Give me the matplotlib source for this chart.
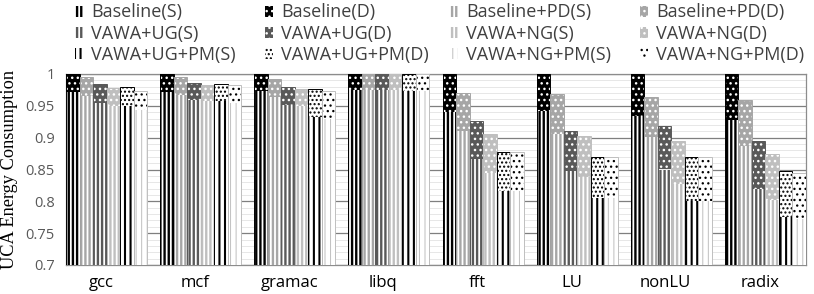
import matplotlib
matplotlib.use('Agg')
import matplotlib.pyplot as plt
import numpy as np
from matplotlib.patches import Patch
from matplotlib.ticker import MultipleLocator

categories = ['gcc', 'mcf', 'gramac', 'libq', 'fft', 'LU', 'nonLU', 'radix']
configs = ['Baseline', 'Baseline+PD', 'VAWA+UG', 'VAWA+NG', 'VAWA+UG+PM', 'VAWA+NG+PM']

# static (S) part and total (S + D) per configuration
baseline_s    = [0.971, 0.972, 0.974, 0.975, 0.941, 0.942, 0.934, 0.927]
baseline_tot  = [1.000, 1.000, 1.000, 1.000, 1.000, 1.000, 1.000, 1.000]
pd_s          = [0.966, 0.967, 0.964, 0.975, 0.910, 0.906, 0.901, 0.887]
pd_tot        = [0.995, 0.995, 0.992, 1.000, 0.970, 0.968, 0.964, 0.959]
ug_s          = [0.954, 0.959, 0.951, 0.975, 0.866, 0.848, 0.850, 0.820]
ug_tot        = [0.984, 0.986, 0.980, 1.000, 0.926, 0.911, 0.918, 0.894]
ng_s          = [0.950, 0.957, 0.950, 0.975, 0.845, 0.839, 0.827, 0.802]
ng_tot        = [0.978, 0.983, 0.976, 1.000, 0.905, 0.902, 0.895, 0.874]
ugpm_s        = [0.950, 0.958, 0.933, 0.974, 0.817, 0.806, 0.801, 0.776]
ugpm_tot      = [0.980, 0.985, 0.977, 1.000, 0.877, 0.869, 0.869, 0.848]
ngpm_s        = [0.944, 0.955, 0.929, 0.974, 0.817, 0.806, 0.801, 0.772]
ngpm_tot      = [0.974, 0.983, 0.974, 1.000, 0.877, 0.869, 0.869, 0.844]

yticks = [0.7, 0.75, 0.8, 0.85, 0.9, 0.95, 1.0]
ytick_labels = ['0.7', '0.75', '0.8', '0.85', '0.9', '0.95', '1']

series_s = [baseline_s, pd_s, ug_s, ng_s, ugpm_s, ngpm_s]
series_tot = [baseline_tot, pd_tot, ug_tot, ng_tot, ugpm_tot, ngpm_tot]

# styles: (outline colour,
#          S: face, hatch colour, hatch, hatch lw,
#          D: face, hatch colour, hatch, hatch lw)
styles = [
    ('#000000', 'white', '#000000', '||||', 1.7, '#000000', 'white', '...', 1.0),
    ('#a6a6a6', 'white', '#a6a6a6', '||||', 1.7, '#a6a6a6', 'white', '...', 1.0),
    ('#595959', 'white', '#595959', '||||', 1.7, '#595959', 'white', '...', 1.0),
    ('#bfbfbf', 'white', '#bfbfbf', '||||', 1.7, '#bfbfbf', 'white', '...', 1.0),
    ('#000000', 'white', '#000000', '|||', 1.5, 'white', '#000000', '....', 1.0),
    ('#bfbfbf', 'white', '#bfbfbf', '|||', 0.7, 'white', '#000000', '...', 0.9),
]

plt.rcParams['font.family'] = ['Open Sans', 'DejaVu Sans']

fig = plt.figure(figsize=(8.14, 2.94), dpi=100)
ax = fig.add_axes([66 / 814, 1 - 265 / 294, 740 / 814, 191 / 294])

n = len(configs)
w = 0.1436
x = np.arange(len(categories))


def set_hlw(artist, lw):
    if hasattr(artist, 'set_hatch_linewidth'):
        artist.set_hatch_linewidth(lw)


def hbar(xs, h, bottom, face, hcol, hatch, hlw):
    with plt.rc_context({'hatch.linewidth': hlw}):
        bars = ax.bar(xs, h, w, bottom=bottom, align='edge', facecolor=face,
                      edgecolor=hcol, hatch=hatch, linewidth=0, zorder=3)
    for b in bars:
        set_hlw(b, hlw)
    return bars


for k in range(n):
    oc, sf, sh, shat, slw, df, dh, dhat, dlw = styles[k]
    s = np.array(series_s[k])
    tot = np.array(series_tot[k])
    d = tot - s
    xs = x + k * w
    hbar(xs, s, 0, sf, sh, shat, slw)
    hbar(xs, d, s, df, dh, dhat, dlw)
    ax.bar(xs, tot, w, align='edge', fill=False, edgecolor=oc, linewidth=0.7, zorder=4)

ax.set_ylim(0.7, 1.0)
ax.set_xlim(0, len(categories) - 1 + n * w)
ax.set_yticks(yticks)
ax.set_yticklabels(ytick_labels)
ax.yaxis.set_minor_locator(MultipleLocator(0.01))
ax.grid(axis='y', which='major', color='#7f7f7f', linewidth=0.9, zorder=0)
ax.grid(axis='y', which='minor', color='#e3e3e3', linewidth=0.6, zorder=0)
ax.set_axisbelow(True)
ax.set_xticks(x + 0.37)
ax.set_xticklabels(categories, fontsize=12, color='black')
ax.tick_params(axis='x', length=0, pad=7)
ax.tick_params(axis='y', which='both', length=0, labelsize=10.5, labelcolor='#595959', pad=8)
for sp in ax.spines.values():
    sp.set_color('#8c8c8c')
    sp.set_linewidth(0.9)

ax.set_ylabel('UCA Energy Consumption', family='Liberation Serif', fontsize=13.2,
              color='black')
ax.yaxis.set_label_coords(-48 / 740, 0.5)

# legend: 4 columns, 3 rows (row-major order)
labels = []
handles = []
hlws = []
for k in range(n):
    oc, sf, sh, shat, slw, df, dh, dhat, dlw = styles[k]
    hs = Patch(facecolor=sf, edgecolor=sh, hatch=shat, linewidth=0)
    hd = Patch(facecolor=df, edgecolor=dh, hatch=dhat, linewidth=0)
    handles += [hs, hd]
    hlws += [slw, dlw]
    labels += [configs[k] + '(S)', configs[k] + '(D)']

col_x = [75, 265, 450, 640]
for c in range(4):
    idx = [r * 4 + c for r in range(3)]
    hh = [handles[i] for i in idx]
    ll = [labels[i] for i in idx]
    with plt.rc_context({'hatch.linewidth': 1.3}):
        leg = fig.legend(hh, ll, loc='upper left',
                         bbox_to_anchor=(col_x[c] / 814, 1 - 3.5 / 294),
                         frameon=False, fontsize=13, handlelength=0.45, handleheight=0.55,
                         handletextpad=0.45, labelspacing=0.17, borderpad=0,
                         borderaxespad=0, labelcolor='#404040')
    for h, i in zip(leg.legend_handles, idx):
        set_hlw(h, hlws[i])

fig.savefig('out.png', dpi=100)
